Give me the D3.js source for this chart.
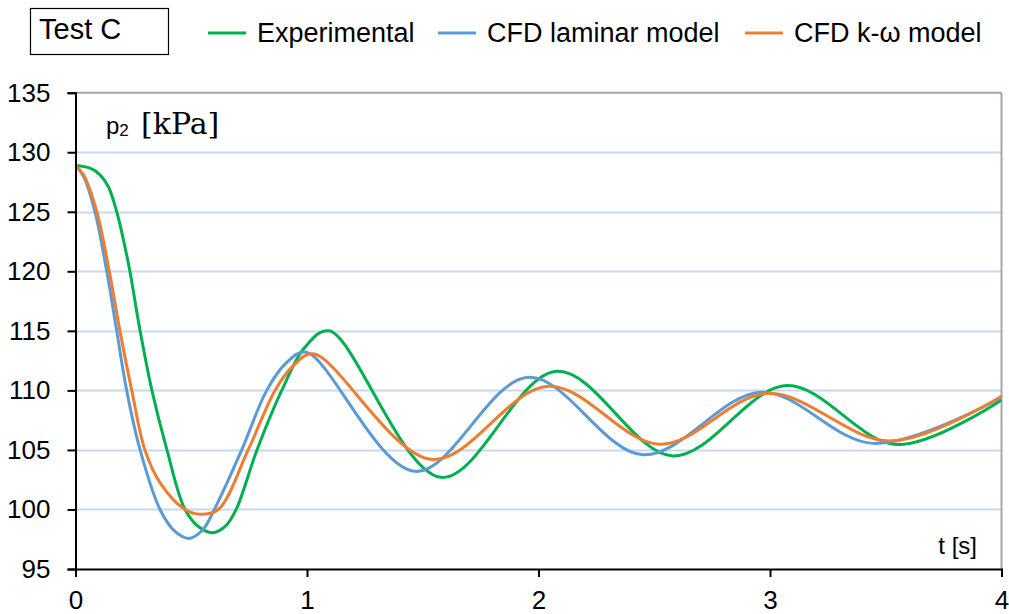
<!DOCTYPE html>
<html><head><meta charset="utf-8">
<script src="https://cdn.jsdelivr.net/npm/d3@7"></script>
<style>
html,body{margin:0;padding:0;background:#fff;}
svg{display:block;}
text{font-family:"Liberation Sans",Arial,sans-serif;fill:#000;}
</style></head>
<body>
<svg id="chart" width="1009" height="614"></svg>
<script>
// ---- data ----
const seriesNames = ["Experimental", "CFD laminar model", "CFD k-\u03c9 model"];
const expT = [0, 0.063, 0.106, 0.142, 0.178, 0.207, 0.235, 0.279, 0.33, 0.395, 0.473, 0.535, 0.592, 0.65, 0.694, 0.784, 0.891, 0.99, 1.095, 1.58, 2.079, 2.581, 3.072, 3.547, 4.0];
const expP = [128.88, 128.66, 128.1, 127.1, 125.0, 122.65, 120.0, 115.0, 110.0, 105.0, 100.0, 98.5, 98.05, 98.65, 100.0, 105.0, 110.0, 113.6, 115.0, 102.7, 111.6, 104.5, 110.4, 105.45, 109.2];
const lamT = [0, 0.035, 0.084, 0.135, 0.178, 0.221, 0.279, 0.365, 0.43, 0.49, 0.55, 0.60, 0.718, 0.826, 0.91, 0.997, 1.467, 1.956, 2.451, 2.962, 3.446, 4.0];
const lamP = [128.88, 127.96, 125.0, 120.0, 115.0, 110.0, 105.0, 100.0, 98.15, 97.57, 98.3, 100.0, 105.0, 110.0, 112.3, 113.2, 103.2, 111.1, 104.6, 109.85, 105.55, 109.4];
const kwT = [0, 0.035, 0.092, 0.146, 0.192, 0.243, 0.300, 0.365, 0.473, 0.54, 0.617, 0.746, 0.862, 0.94, 1.027, 1.54, 2.042, 2.525, 2.99, 3.518, 4.0];
const kwP = [128.88, 128.1, 125.0, 120.0, 115.0, 110.0, 105.0, 102.26, 100.0, 99.6, 100.0, 105.0, 110.0, 112.05, 113.07, 104.2, 110.35, 105.47, 109.75, 105.75, 109.5];
const xTicks = [0, 1, 2, 3, 4];
const yTicks = [95, 100, 105, 110, 115, 120, 125, 130, 135];
const colors = ["#00b050", "#5b9bd5", "#ed7d31"];

// ---- layout ----
const svg = d3.select("#chart");
const x = d3.scaleLinear().domain([0, 4]).range([75.5, 1001.5]);
const y = d3.scaleLinear().domain([95, 135]).range([569, 92.7]);

// gridlines
svg.append("g").selectAll("line").data(yTicks.filter(v => v > 95 && v < 135)).join("line")
  .attr("x1", x(0)).attr("x2", x(4))
  .attr("y1", d => Math.round(y(d)) + 0.5).attr("y2", d => Math.round(y(d)) + 0.5)
  .attr("stroke", "#c6d9f1").attr("stroke-width", 2);
// top line
svg.append("line").attr("x1", x(0)).attr("x2", x(4))
  .attr("y1", y(135)).attr("y2", y(135)).attr("stroke", "#9aa7b6").attr("stroke-width", 2);
// right border
svg.append("line").attr("x1", x(4)).attr("x2", x(4))
  .attr("y1", y(135)).attr("y2", y(95)).attr("stroke", "#a6a6a6").attr("stroke-width", 2);

// series
const line = d3.line().x(d => x(d[0])).y(d => y(d[1])).curve(d3.curveCatmullRom.alpha(0.5));
const series = [
  expT.map((t, i) => [t, expP[i]]),
  lamT.map((t, i) => [t, lamP[i]]),
  kwT.map((t, i) => [t, kwP[i]])
];
[0, 1, 2].forEach(i => {
  svg.append("path").datum(series[i]).attr("d", line)
    .attr("fill", "none").attr("stroke", colors[i]).attr("stroke-width", 3)
    .attr("stroke-linejoin", "round");
});

// axes
const yAxis = d3.axisLeft(y).tickValues(yTicks).tickSize(8).tickPadding(17).tickFormat(d3.format("d"));
const gy = svg.append("g").attr("transform", `translate(${x(0)},0)`).call(yAxis);
gy.select(".domain").attr("stroke", "#000").attr("stroke-width", 2);
gy.selectAll(".tick line").attr("stroke", "#000").attr("stroke-width", 2);
gy.selectAll(".tick text").style("font-size", "26px").style("font-family", "'Liberation Sans',Arial,sans-serif").attr("fill", "#000");

const xAxis = d3.axisBottom(x).tickValues(xTicks).tickSize(8).tickPadding(14).tickFormat(d3.format("d"));
const gx = svg.append("g").attr("transform", `translate(0,${y(95)})`).call(xAxis);
gx.select(".domain").attr("stroke", "#000").attr("stroke-width", 2);
gx.selectAll(".tick line").attr("stroke", "#000").attr("stroke-width", 2);
gx.selectAll(".tick text").style("font-size", "26px").style("font-family", "'Liberation Sans',Arial,sans-serif").attr("fill", "#000");

// axis titles
const pl = svg.append("text").attr("x", 106).attr("y", 134);
pl.append("tspan").text("p").style("font-size", "24px");
pl.append("tspan").text("2").style("font-size", "17px").attr("dy", 2);
pl.append("tspan").text("[kPa]").attr("x", 141).attr("dy", -2)
  .style("font-family", "'DejaVu Serif','Liberation Serif',serif").style("font-size", "30px");
svg.append("text").attr("x", 977).attr("y", 554).attr("text-anchor", "end")
  .style("font-size", "24px").text("t [s]");

// legend
svg.append("rect").attr("x", 30.5).attr("y", 8.5).attr("width", 138).attr("height", 46)
  .attr("fill", "#fff").attr("stroke", "#000").attr("stroke-width", 1.2);
svg.append("text").attr("x", 39).attr("y", 39).style("font-size", "29px").text("Test C");
const legX = [208, 438, 745];
seriesNames.forEach((n, i) => {
  svg.append("line").attr("x1", legX[i]).attr("x2", legX[i] + 38).attr("y1", 33).attr("y2", 33)
    .attr("stroke", colors[i]).attr("stroke-width", 3);
  svg.append("text").attr("x", legX[i] + 49).attr("y", 42).style("font-size", "27px").text(n);
});
</script>
</body></html>
